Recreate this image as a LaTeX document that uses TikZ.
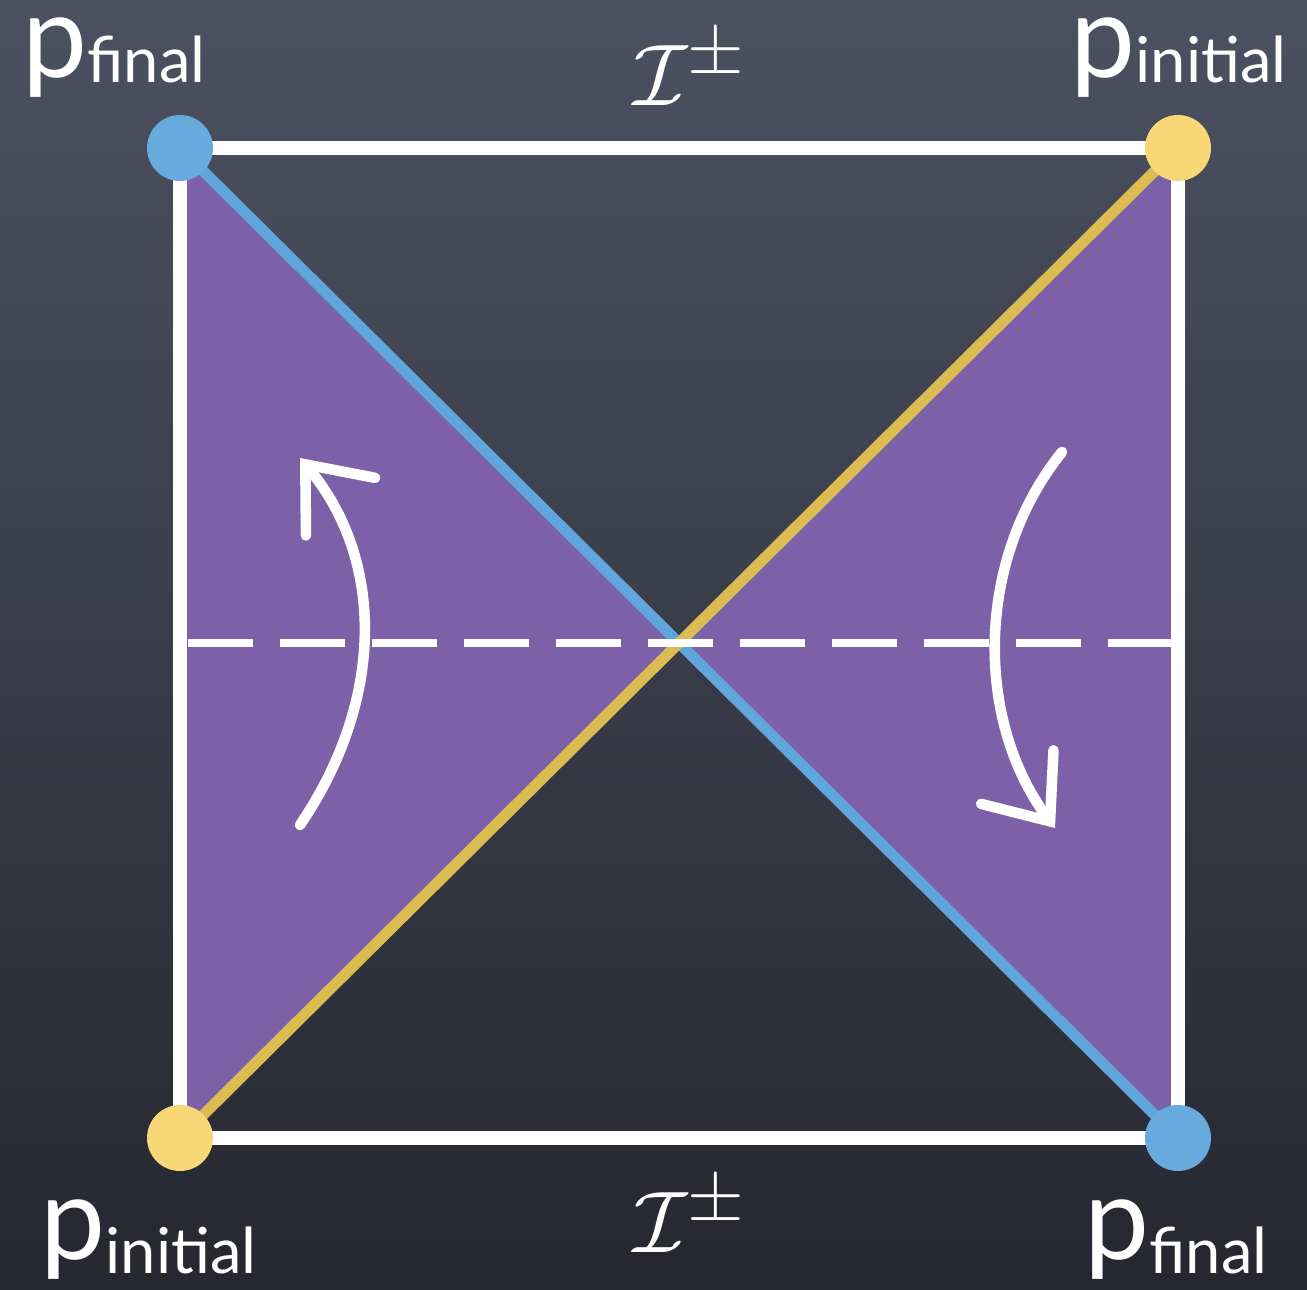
\documentclass[tikz,border=0pt]{standalone}
\usepackage{amsmath}
\usepackage{fontspec}
\usetikzlibrary{arrows.meta, calc}
\newfontfamily\chalkfont{Lato}
\definecolor{boardtop}{RGB}{76,81,97}
\definecolor{boardbot}{RGB}{38,39,48}
\definecolor{wedge}{RGB}{124,97,168}
\definecolor{finalblue}{RGB}{104,170,222}
\definecolor{inityellow}{RGB}{248,215,118}
\definecolor{lineyellow}{RGB}{218,188,80}
\definecolor{lineblue}{RGB}{96,166,220}
\newcommand{\pname}[2]{p\raisebox{-#2}{\fontsize{18}{20}\selectfont #1}}

\begin{document}
\begin{tikzpicture}[
    chalk/.style={draw=white, line width=3.8pt, line join=round},
    diag/.style={line width=3.1pt},
    cut/.style={draw=white, line width=2.4pt, dash pattern=on 0.65cm off 0.27cm},
    turn/.style={draw=white, line width=3pt, line cap=round,
                 -{Straight Barb[length=5.5mm, width=9mm, line cap=round]}},
    dot/.style={circle, minimum size=6.6mm, inner sep=0pt},
    pdot/.style={font=\chalkfont\fontsize{33}{35}\selectfont, text=white, inner sep=0pt, anchor=base west},
    scri/.style={text=white, font=\fontsize{28}{30}\selectfont},
]
\useasboundingbox (0,0) rectangle (13.07,12.89);
\shade[top color=boardtop, bottom color=boardbot] (0,0) rectangle (13.07,12.89);

% ------------------------------------------------------------- corners ---
\coordinate (tl) at (1.80,11.41);
\coordinate (tr) at (11.78,11.41);
\coordinate (bl) at (1.80,1.51);
\coordinate (br) at (11.78,1.51);
\coordinate (mid) at ($(tl)!0.5!(br)$);

% -------------------------------------------------------------- wedges ---
\fill[wedge] (tl) -- (bl) -- (mid) -- cycle;
\fill[wedge] (tr) -- (br) -- (mid) -- cycle;

% -------------------------------------------------------------- square ---
\draw[chalk] (tl) -- (tr) -- (br) -- (bl) -- cycle;

% ----------------------------------------------------------- diagonals ---
\draw[diag, lineblue] (tl) -- (br);
\draw[diag, lineyellow] (bl) -- (tr);

% ------------------------------------------------------ dashed slice ---
\coordinate (cutl) at ($(bl |- mid)+(0.08,0)$);
\coordinate (cutr) at ($(br |- mid)+(-0.03,0)$);
\draw[cut] (cutl) -- (cutr);

% -------------------------------------------------------------- arrows ---
\coordinate (lfrom) at (3.00,4.64);
\coordinate (lto) at (3.00,8.31);
\draw[turn] (lfrom) .. controls (3.85,5.89) and (3.85,7.29) .. (lto);
\coordinate (rfrom) at (10.62,8.37);
\coordinate (rto) at (10.55,4.61);
\draw[turn] (rfrom) .. controls (9.75,7.29) and (9.75,5.69) .. (rto);

% ---------------------------------------------------------------- dots ---
\node[dot, fill=finalblue] (ptl) at (tl) {};
\node[dot, fill=inityellow] (ptr) at (tr) {};
\node[dot, fill=inityellow] (pbl) at (bl) {};
\node[dot, fill=finalblue] (pbr) at (br) {};

% -------------------------------------------------------------- labels ---
\node[pdot] (ltl) at (0.22,12.11) {\pname{final}{0.05cm}};
\node[pdot] (ltr) at (10.70,12.11) {\pname{initial}{0.05cm}};
\node[pdot] (lbl) at (0.40,0.30) {\pname{initial}{0.14cm}};
\node[pdot] (lbr) at (10.84,0.30) {\pname{final}{0.14cm}};
\node[scri] (scritop) at (6.90,12.21) {$\mathcal{I}^{\pm}$};
\node[scri] (scribot) at (6.90,0.74) {$\mathcal{I}^{\pm}$};

\end{tikzpicture}
\end{document}
